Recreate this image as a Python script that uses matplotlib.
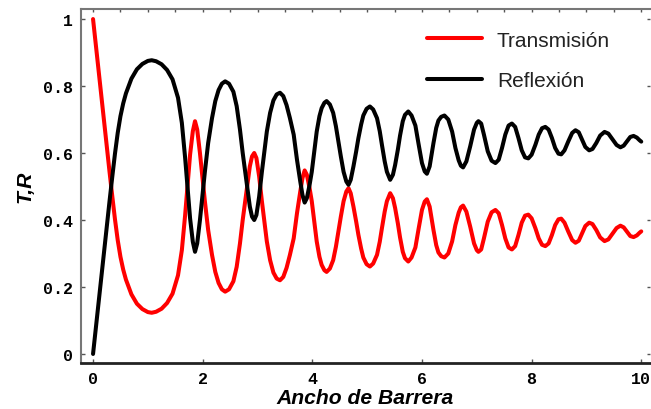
import matplotlib.pyplot as plt
import numpy as np

# barrier width values
ancho = [
    0.00, 0.05, 0.10, 0.15, 0.20, 0.25, 0.30, 0.35, 0.40, 0.45,
    0.50, 0.55, 0.60, 0.70, 0.80, 0.90, 1.00, 1.07, 1.15, 1.25,
    1.35, 1.45, 1.55, 1.62, 1.68, 1.73, 1.77, 1.82, 1.86, 1.90,
    1.95, 2.00, 2.04, 2.10, 2.17, 2.23, 2.29, 2.35, 2.41, 2.48,
    2.56, 2.62, 2.68, 2.73, 2.77, 2.82, 2.86, 2.90, 2.94, 2.98,
    3.03, 3.08, 3.13, 3.17, 3.23, 3.29, 3.35, 3.41, 3.47, 3.53,
    3.59, 3.66, 3.72, 3.78, 3.82, 3.86, 3.90, 3.95, 3.99, 4.04,
    4.08, 4.13, 4.17, 4.22, 4.26, 4.32, 4.38, 4.43, 4.47, 4.52,
    4.57, 4.62, 4.66, 4.70, 4.75, 4.80, 4.84, 4.89, 4.93, 4.99,
    5.05, 5.11, 5.18, 5.23, 5.27, 5.32, 5.36, 5.42, 5.47, 5.51,
    5.56, 5.60, 5.65, 5.69, 5.75, 5.81, 5.88, 5.94, 6.00, 6.05,
    6.09, 6.14, 6.21, 6.26, 6.30, 6.35, 6.41, 6.48, 6.55, 6.61,
    6.67, 6.71, 6.75, 6.81, 6.88, 6.95, 7.00, 7.03, 7.08, 7.13,
    7.20, 7.27, 7.34, 7.40, 7.46, 7.52, 7.58, 7.64, 7.70, 7.76,
    7.82, 7.88, 7.94, 8.00, 8.07, 8.13, 8.19, 8.25, 8.31, 8.37,
    8.43, 8.49, 8.54, 8.60, 8.67, 8.74, 8.80, 8.86, 8.92, 8.98,
    9.05, 9.11, 9.18, 9.25, 9.33, 9.40, 9.47, 9.55, 9.62, 9.68,
    9.74, 9.80, 9.86, 9.92, 9.97, 10.00,
]

transmision = [
    1.000, 0.924, 0.848, 0.772, 0.696, 0.620, 0.545, 0.472, 0.402, 0.340,
    0.290, 0.252, 0.222, 0.178, 0.150, 0.134, 0.125, 0.123, 0.126, 0.135,
    0.152, 0.180, 0.235, 0.310, 0.415, 0.515, 0.595, 0.665, 0.695, 0.670,
    0.600, 0.520, 0.456, 0.370, 0.296, 0.245, 0.212, 0.193, 0.186, 0.193,
    0.217, 0.260, 0.330, 0.400, 0.450, 0.515, 0.560, 0.590, 0.600, 0.585,
    0.530, 0.456, 0.390, 0.336, 0.280, 0.243, 0.225, 0.220, 0.230, 0.257,
    0.295, 0.345, 0.420, 0.485, 0.525, 0.548, 0.535, 0.495, 0.456, 0.390,
    0.336, 0.290, 0.266, 0.250, 0.245, 0.255, 0.280, 0.320, 0.360, 0.410,
    0.456, 0.485, 0.495, 0.480, 0.440, 0.395, 0.356, 0.315, 0.288, 0.268,
    0.261, 0.270, 0.296, 0.335, 0.376, 0.425, 0.456, 0.480, 0.465, 0.436,
    0.390, 0.348, 0.305, 0.286, 0.276, 0.288, 0.318, 0.375, 0.430, 0.455,
    0.462, 0.440, 0.370, 0.325, 0.303, 0.292, 0.288, 0.300, 0.336, 0.385,
    0.422, 0.438, 0.443, 0.425, 0.380, 0.330, 0.310, 0.305, 0.312, 0.345,
    0.395, 0.423, 0.430, 0.420, 0.385, 0.345, 0.318, 0.312, 0.322, 0.355,
    0.392, 0.413, 0.416, 0.405, 0.375, 0.345, 0.326, 0.322, 0.330, 0.355,
    0.385, 0.402, 0.404, 0.392, 0.365, 0.340, 0.332, 0.338, 0.360, 0.382,
    0.392, 0.388, 0.370, 0.348, 0.337, 0.342, 0.358, 0.376, 0.383, 0.378,
    0.365, 0.352, 0.349, 0.354, 0.362, 0.366,
]

reflexion = [
    0.000, 0.076, 0.152, 0.228, 0.304, 0.380, 0.455, 0.528, 0.598, 0.660,
    0.710, 0.748, 0.778, 0.822, 0.850, 0.866, 0.875, 0.877, 0.874, 0.865,
    0.848, 0.820, 0.765, 0.690, 0.585, 0.485, 0.405, 0.335, 0.305, 0.330,
    0.400, 0.480, 0.544, 0.630, 0.704, 0.755, 0.788, 0.807, 0.814, 0.807,
    0.783, 0.740, 0.670, 0.600, 0.550, 0.485, 0.440, 0.410, 0.400, 0.415,
    0.470, 0.544, 0.610, 0.664, 0.720, 0.757, 0.775, 0.780, 0.770, 0.743,
    0.705, 0.655, 0.580, 0.515, 0.475, 0.452, 0.465, 0.505, 0.544, 0.610,
    0.664, 0.710, 0.734, 0.750, 0.755, 0.745, 0.720, 0.680, 0.640, 0.590,
    0.544, 0.515, 0.505, 0.520, 0.560, 0.605, 0.644, 0.685, 0.712, 0.732,
    0.739, 0.730, 0.704, 0.665, 0.624, 0.575, 0.544, 0.520, 0.535, 0.564,
    0.610, 0.652, 0.695, 0.714, 0.724, 0.712, 0.682, 0.625, 0.570, 0.545,
    0.538, 0.560, 0.630, 0.675, 0.697, 0.708, 0.712, 0.700, 0.664, 0.615,
    0.578, 0.562, 0.557, 0.575, 0.620, 0.670, 0.690, 0.695, 0.688, 0.655,
    0.605, 0.577, 0.570, 0.580, 0.615, 0.655, 0.682, 0.688, 0.678, 0.645,
    0.608, 0.587, 0.584, 0.595, 0.625, 0.655, 0.674, 0.678, 0.670, 0.645,
    0.615, 0.598, 0.596, 0.608, 0.635, 0.660, 0.668, 0.662, 0.640, 0.618,
    0.608, 0.612, 0.630, 0.652, 0.663, 0.658, 0.642, 0.624, 0.617, 0.622,
    0.635, 0.648, 0.651, 0.646, 0.638, 0.634,
]

xticks = [0, 2, 4, 6, 8, 10]
yticks = [0, 0.2, 0.4, 0.6, 0.8, 1]
ytick_labels = ["0", "0.2", "0.4", "0.6", "0.8", "1"]

fig = plt.figure(figsize=(6.51, 4.10), dpi=100)
ax = fig.add_axes([0.1244, 0.1122, 0.8741, 0.8634])

ax.plot(ancho, transmision, color="#ff0000", lw=2.9, solid_joinstyle="round",
        solid_capstyle="round", label="Transmisión")
ax.plot(ancho, reflexion, color="black", lw=2.9, solid_joinstyle="round",
        solid_capstyle="round", label="Reflexión")

ax.set_xlim(-0.22, 10.16)
ax.set_ylim(-0.027, 1.03)

tick_font = dict(family="Liberation Mono", weight="bold", size=12)
ax.set_xticks(xticks)
ax.set_xticklabels([str(t) for t in xticks], fontdict=tick_font)
ax.set_yticks(yticks)
ax.set_yticklabels(ytick_labels, fontdict=tick_font)
ax.tick_params(direction="in", length=3, width=1, color="#555555", pad=6)

# top: minor ticks every 0.5, right: ticks at the y majors
top = ax.secondary_xaxis("top")
top.set_xticks(np.arange(0, 10.01, 0.5))
top.tick_params(direction="in", length=2.5, width=1, color="#555555", labeltop=False)
top.spines["top"].set_visible(False)
right = ax.secondary_yaxis("right")
right.set_yticks(yticks)
right.tick_params(direction="in", length=2.5, width=1, color="#555555", labelright=False)
right.spines["right"].set_visible(False)

ax.spines["bottom"].set_color("#222222")
ax.spines["bottom"].set_linewidth(2.0)
ax.spines["left"].set_color("#777777")
ax.spines["left"].set_linewidth(1.5)
ax.spines["top"].set_color("#777777")
ax.spines["top"].set_linewidth(1.5)
ax.spines["right"].set_visible(False)

label_font = dict(family="Liberation Sans", weight="bold", style="italic", size=15.2)
ax.set_xlabel("Ancho de Barrera", fontdict=label_font, labelpad=1)
ax.set_ylabel("T,R", fontdict=label_font, labelpad=6)

ax.legend(loc="upper left", bbox_to_anchor=(0.656, 0.923), bbox_transform=fig.transFigure,
          frameon=False, borderpad=0, borderaxespad=0, handlelength=2.65,
          handletextpad=0.7, labelspacing=1.05,
          prop=dict(family="Liberation Sans", size=15), labelcolor="#222222")

fig.savefig("out.png", dpi=100)
